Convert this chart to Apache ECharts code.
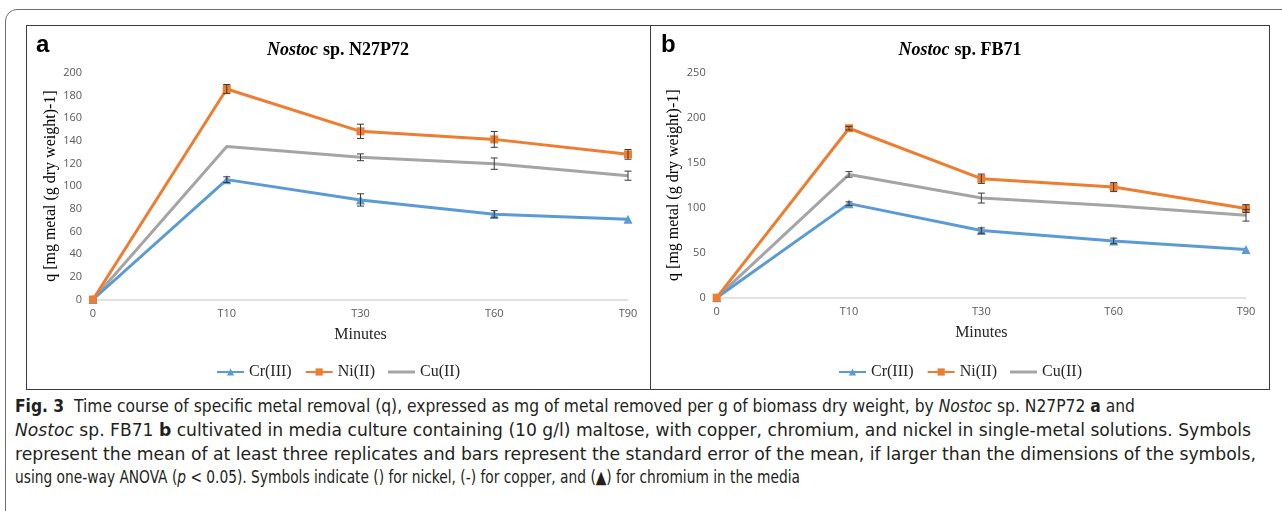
<!DOCTYPE html>
<html>
<head>
<meta charset="utf-8">
<script src="https://cdn.jsdelivr.net/npm/echarts@6/dist/echarts.min.js"></script>
<style>
  html, body { margin:0; padding:0; background:#fff; width:1282px; height:511px; overflow:hidden; }
  .abs { position:absolute; }
  #frame { left:5px; top:9px; width:1300px; height:540px; border:1.5px solid #6e6e6e; border-radius:12px; box-sizing:border-box; }
  .pbox { border:1.5px solid #3c3c3c; box-sizing:border-box; pointer-events:none; }
  .cap { left:15px; white-space:nowrap; font-family:"DejaVu Sans Condensed","Liberation Sans Narrow","Noto Sans",sans-serif; font-size:18px; color:#231f20; transform-origin:0 50%; line-height:20px; }
  .cap b { font-weight:bold; }
</style>
</head>
<body>
<div id="frame" class="abs"></div>
<div id="chartA" class="abs" style="left:26px;top:25px;width:624px;height:364px;"></div>
<div id="chartB" class="abs" style="left:651px;top:25px;width:618px;height:364px;"></div>
<div class="abs pbox" style="left:26px;top:25px;width:625px;height:365px;"></div>
<div class="abs pbox" style="left:650px;top:25px;width:620px;height:365px;"></div>

<div class="abs cap" id="c1" data-w="1120" style="top:396px;"><b>Fig. 3</b>&nbsp; Time course of specific metal removal (q), expressed as mg of metal removed per g of biomass dry weight, by <i>Nostoc</i> sp. N27P72 <b>a</b> and</div>
<div class="abs cap" id="c2" data-w="1236" style="top:420px;"><i>Nostoc</i> sp. FB71 <b>b</b> cultivated in media culture containing (10 g/l) maltose, with copper, chromium, and nickel in single-metal solutions. Symbols</div>
<div class="abs cap" id="c3" data-w="1241" style="top:444px;">represent the mean of at least three replicates and bars represent the standard error of the mean, if larger than the dimensions of the symbols,</div>
<div class="abs cap" id="c4" data-w="785" style="top:467px;">using one-way ANOVA (<i>p</i> &lt; 0.05). Symbols indicate () for nickel, (-) for copper, and (▲) for chromium in the media</div>

<script>
// ---- Data ----
const categories = ['0', 'T10', 'T30', 'T60', 'T90'];
const seriesNames = ['Cr(III)', 'Ni(II)', 'Cu(II)'];

// Panel a: Nostoc sp. N27P72
const crA = [0, 105.7, 87.8, 75.2, 70.8];
const niA = [0, 185.6, 148.3, 141.2, 128.0];
const cuA = [0, 135.0, 125.4, 119.8, 109.2];
const crErrA = [0, 2.5, 5.4, 3.2, 0];
const niErrA = [0, 4.0, 6.3, 7.0, 4.3];
const cuErrA = [0, 0, 3.0, 5.0, 4.0];

// Panel b: Nostoc sp. FB71
const crB = [0, 104.5, 74.6, 63.1, 53.6];
const niB = [0, 188.3, 132.2, 122.9, 99.0];
const cuB = [0, 137.0, 110.7, 102.3, 91.6];
const crErrB = [0, 2.0, 3.0, 3.1, 0];
const niErrB = [0, 2.0, 5.2, 5.0, 4.4];
const cuErrB = [0, 3.1, 5.5, 0, 6.5];

const colors = { cr: '#5B9BD5', ni: '#ED7D31', cu: '#A5A5A5' };
const serif = '"Liberation Serif","Times New Roman",serif';
const tickFont = '"Liberation Sans Narrow","Open Sans","Liberation Sans",sans-serif';

function errData(vals, errs) {
  const out = [];
  vals.forEach((v, i) => { if (errs[i] > 0) out.push([i, v - errs[i], v + errs[i]]); });
  return out;
}

function errSeries(name, vals, errs) {
  return {
    type: 'custom',
    name: name,
    silent: true,
    z: 5,
    data: errData(vals, errs),
    renderItem: function (params, api) {
      const x = api.value(0);
      const lo = api.coord([x, api.value(1)]);
      const hi = api.coord([x, api.value(2)]);
      const hw = 3.5;
      const st = { stroke: '#3a3a3a', lineWidth: 1 };
      return {
        type: 'group',
        children: [
          { type: 'line', shape: { x1: lo[0], y1: lo[1], x2: hi[0], y2: hi[1] }, style: st },
          { type: 'line', shape: { x1: lo[0] - hw, y1: lo[1], x2: lo[0] + hw, y2: lo[1] }, style: st },
          { type: 'line', shape: { x1: hi[0] - hw, y1: hi[1], x2: hi[0] + hw, y2: hi[1] }, style: st }
        ]
      };
    }
  };
}

function lineSeries(name, vals, color, symbol, size) {
  return {
    type: 'line',
    name: name,
    data: vals,
    symbol: symbol,
    symbolSize: size,
    showSymbol: symbol !== 'none',
    lineStyle: { color: color, width: 3 },
    itemStyle: { color: color },
    emphasis: { disabled: true },
    z: 3
  };
}

function buildOption(cfg) {
  return {
    animation: false,
    backgroundColor: 'transparent',
    title: {
      text: '{i|Nostoc} {b|sp. ' + cfg.strain + '}',
      left: 'center',
      top: 11,
      textStyle: {
        rich: {
          i: { fontFamily: serif, fontSize: 18, fontWeight: 'bold', fontStyle: 'italic', color: '#000' },
          b: { fontFamily: serif, fontSize: 18, fontWeight: 'bold', color: '#000' }
        }
      }
    },
    graphic: [{
      type: 'text', left: 10, top: 8,
      style: { text: cfg.label, font: 'bold 24px "Liberation Sans","Open Sans",sans-serif', fill: '#000' }
    }],
    legend: {
      data: [
        { name: 'Cr(III)' },
        { name: 'Ni(II)' },
        { name: 'Cu(II)', icon: 'path://M0,0 L27,0 L27,3 L0,3 Z', itemStyle: { color: colors.cu } }
      ],
      left: 'center',
      top: 334,
      itemWidth: 27,
      itemHeight: 9,
      itemGap: 13,
      textStyle: { fontFamily: serif, fontSize: 16, color: '#262626' }
    },
    grid: { left: cfg.gl, right: cfg.gr, top: 47.7, bottom: cfg.gb, containLabel: false },
    xAxis: {
      type: 'category',
      data: categories,
      boundaryGap: false,
      name: 'Minutes',
      nameLocation: 'middle',
      nameGap: 27,
      nameMoveOverlap: false,
      nameTextStyle: { fontFamily: serif, fontSize: 16, color: '#262626' },
      axisLine: { lineStyle: { color: '#D9D9D9', width: 1.5 } },
      axisTick: { show: false },
      axisLabel: { color: '#595959', fontFamily: tickFont, fontSize: 11, margin: 9 },
      splitLine: { show: false }
    },
    yAxis: {
      type: 'value',
      min: 0,
      max: cfg.ymax,
      interval: cfg.yint,
      name: 'q [mg metal (g dry weight)-1]',
      nameLocation: 'middle',
      nameGap: cfg.ng,
      nameMoveOverlap: false,
      nameTextStyle: { fontFamily: serif, fontSize: 16, color: '#000' },
      axisLine: { show: false },
      axisTick: { show: false },
      axisLabel: { color: '#595959', fontFamily: tickFont, fontSize: 11, margin: 11 },
      splitLine: { show: false }
    },
    series: [
      lineSeries('Cu(II)', cfg.cu, colors.cu, 'none', 0),
      lineSeries('Cr(III)', cfg.cr, colors.cr, 'triangle', 9),
      lineSeries('Ni(II)', cfg.ni, colors.ni, 'rect', 8),
      errSeries('errCr', cfg.cr, cfg.crErr),
      errSeries('errNi', cfg.ni, cfg.niErr),
      errSeries('errCu', cfg.cu, cfg.cuErr)
    ]
  };
}

const chartA = echarts.init(document.getElementById('chartA'), null, { renderer: 'canvas' });
chartA.setOption(buildOption({
  strain: 'N27P72', label: 'a', ymax: 200, yint: 20, ng: 34,
  gl: 67, gr: 22, gb: 89.5,
  cr: crA, ni: niA, cu: cuA, crErr: crErrA, niErr: niErrA, cuErr: cuErrA
}));

const chartB = echarts.init(document.getElementById('chartB'), null, { renderer: 'canvas' });
chartB.setOption(buildOption({
  strain: 'FB71', label: 'b', ymax: 250, yint: 50, ng: 35,
  gl: 65.7, gr: 23, gb: 91.3,
  cr: crB, ni: niB, cu: cuB, crErr: crErrB, niErr: niErrB, cuErr: cuErrB
}));

// fit caption lines to their measured widths
['c1','c2','c3','c4'].forEach(id => {
  const el = document.getElementById(id);
  const target = parseFloat(el.dataset.w);
  const w = el.getBoundingClientRect().width;
  if (w > 0) el.style.transform = 'scaleX(' + (target / w) + ')';
});
</script>
</body>
</html>
